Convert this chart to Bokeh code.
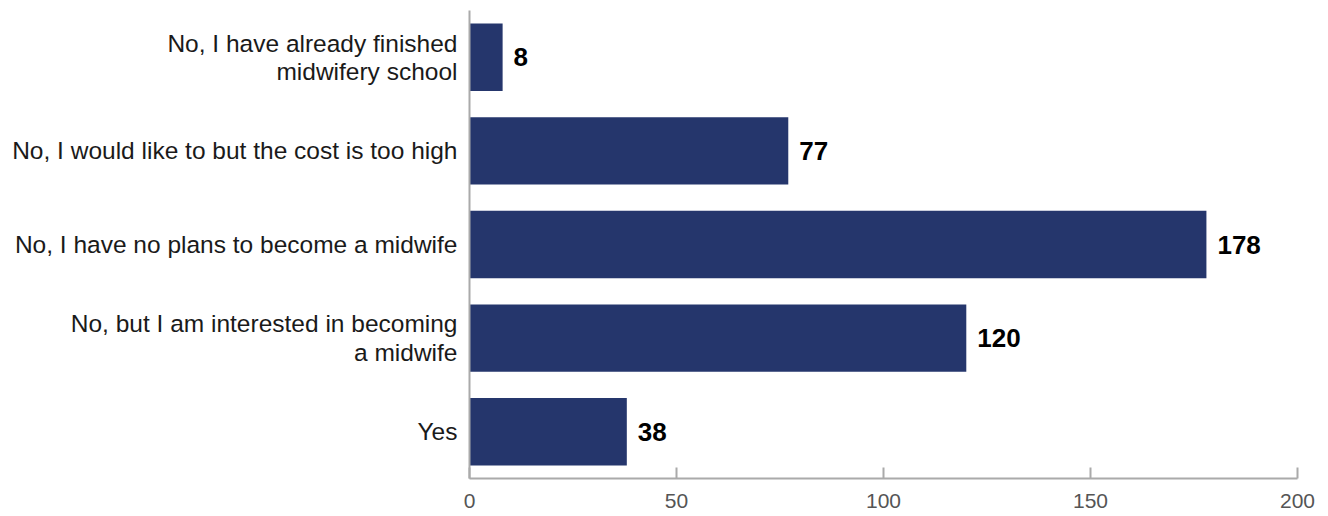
from bokeh.plotting import figure
from bokeh.models import ColumnDataSource, Range1d, FixedTicker
from bokeh.core.properties import value
from bokeh.embed import file_html
from bokeh.resources import INLINE

categories = [
    "Yes",
    "No, but I am interested in becoming\na midwife",
    "No, I have no plans to become a midwife",
    "No, I would like to but the cost is too high",
    "No, I have already finished\nmidwifery school",
]
counts = [38, 120, 178, 77, 8]
x_ticks = [0, 50, 100, 150, 200]

src = ColumnDataSource(dict(cat=categories, val=counts, label=[str(v) for v in counts]))

FONT = "Liberation Sans"

p = figure(
    y_range=categories,
    x_range=Range1d(0, 200),
    width=1320, height=516,
    output_backend="svg", toolbar_location=None,
    min_border_left=469, min_border_right=23, min_border_top=10, min_border_bottom=38,
)
p.hbar(y="cat", right="val", height=0.72, source=src, color="#25366c", line_color=None)
p.text(x="val", y="cat", text="label", source=src, x_offset=11,
       text_baseline="middle", text_align="left",
       text_font=value(FONT), text_font_style="bold", text_font_size="26px", text_color="#000000")

p.grid.visible = False
p.outline_line_color = None

xa = p.xaxis[0]
xa.ticker = FixedTicker(ticks=x_ticks)
xa.minor_tick_line_color = None
xa.major_tick_in = 11
xa.major_tick_out = 0
xa.axis_line_color = "#aaaaaa"
xa.major_tick_line_color = "#aaaaaa"
xa.axis_line_width = 2
xa.major_tick_line_width = 2
xa.major_label_text_font = FONT
xa.major_label_text_font_size = "21px"
xa.major_label_text_color = "#555555"
xa.major_label_standoff = 15

ya = p.yaxis[0]
ya.major_tick_line_color = None
ya.minor_tick_line_color = None
ya.axis_line_color = "#aaaaaa"
ya.axis_line_width = 2
ya.major_label_text_font = FONT
ya.major_label_text_font_size = "24.5px"
ya.major_label_text_color = "#1a1a1a"
ya.major_label_standoff = 6
ya.major_label_text_line_height = 1.05

p.y_range.range_padding = 0

open("out.html", "w").write(file_html(p, INLINE))
